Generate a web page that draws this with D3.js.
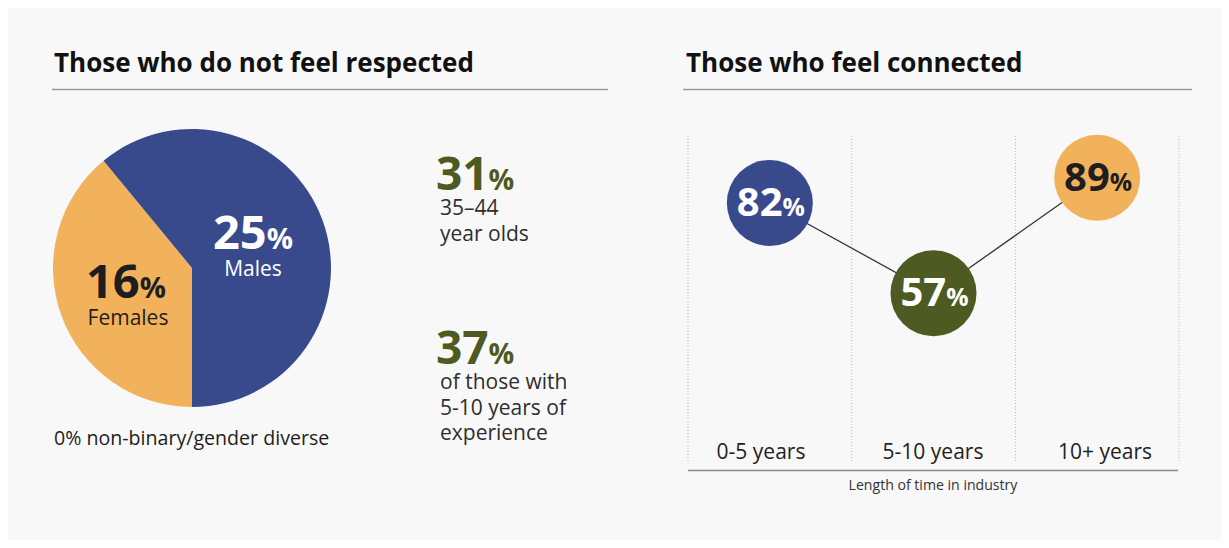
<!DOCTYPE html>
<html>
<head>
<meta charset="utf-8">
<title>Respected and connected</title>
<script src="https://cdn.jsdelivr.net/npm/d3@7"></script>
<style>
  body { margin: 0; background: #fff; font-family: "Open Sans", sans-serif; }
  svg text { font-family: "Open Sans", sans-serif; }
</style>
</head>
<body>
<svg id="chart" width="1229" height="548"></svg>
<script>
// left panel: share who do not feel respected
var genders = ["Females", "Males"];
var genderValues = [16, 25];
var genderColors = ["#f2b25c", "#394a8c"];
var genderText = ["#1e1e1e", "#ffffff"];
var otherNote = "0% non-binary/gender diverse";

var callouts = [
  { value: 31, lines: ["35\u201344", "year olds"] },
  { value: 37, lines: ["of those with", "5-10 years of", "experience"] }
];

// right panel: share who feel connected
var tenure = ["0-5 years", "5-10 years", "10+ years"];
var connected = [82, 57, 89];
var tenureColors = ["#394a8c", "#4d5a21", "#f2b25c"];
var tenureText = ["#ffffff", "#ffffff", "#1e1e1e"];

var svg = d3.select("#chart");

svg.append("rect")
  .attr("x", 8).attr("y", 8)
  .attr("width", 1213).attr("height", 532)
  .attr("fill", "#f8f8f8");

// titles
function title(x, y, x1, x2, txt) {
  svg.append("text")
    .attr("x", x).attr("y", y)
    .attr("font-size", 26).attr("font-weight", 700)
    .attr("fill", "#111")
    .text(txt);
  svg.append("line")
    .attr("x1", x1).attr("x2", x2)
    .attr("y1", 89.5).attr("y2", 89.5)
    .attr("stroke", "#9a9a9a").attr("stroke-width", 1.5);
}
title(54, 72, 52, 608, "Those who do not feel respected");
title(686, 72, 683, 1192, "Those who feel connected");

// big number with small % sign
function bigPct(g, x, y, val, size, color, anchor) {
  var t = g.append("text")
    .attr("x", x).attr("y", y)
    .attr("text-anchor", anchor || "start")
    .attr("font-weight", 700)
    .attr("fill", color);
  t.append("tspan").attr("font-size", size).text(val);
  t.append("tspan").attr("font-size", size * 0.62).text("%");
  return t;
}

// pie
var cx = 192, cy = 268, r = 139;
var pie = d3.pie().sort(null).startAngle(Math.PI).endAngle(3 * Math.PI);
var arc = d3.arc().innerRadius(0).outerRadius(r);
var arcs = pie(genderValues);

var pg = svg.append("g").attr("transform", "translate(" + cx + "," + cy + ")");
pg.selectAll("path")
  .data(arcs)
  .enter().append("path")
  .attr("d", arc)
  .attr("fill", function(d, i) { return genderColors[i]; });

var labelPos = [[-66, 30], [61, -19]];
arcs.forEach(function(d, i) {
  bigPct(pg, labelPos[i][0], labelPos[i][1], genderValues[i], 47, genderText[i], "middle");
  pg.append("text")
    .attr("x", labelPos[i][0] + (i ? 0 : 2)).attr("y", labelPos[i][1] + 27)
    .attr("text-anchor", "middle")
    .attr("font-size", 21)
    .attr("fill", genderText[i])
    .text(genders[i]);
});

svg.append("text")
  .attr("x", 54).attr("y", 445)
  .attr("font-size", 19.6).attr("fill", "#1e1e1e")
  .text(otherNote);

// callouts
var cy0 = [190, 364];
callouts.forEach(function(c, i) {
  bigPct(svg, 436, cy0[i], c.value, 46, "#4d5a21");
  c.lines.forEach(function(l, j) {
    svg.append("text")
      .attr("x", 440).attr("y", cy0[i] + 25 + j * 25.5)
      .attr("font-size", 21).attr("fill", "#2e2e2e")
      .text(l);
  });
});

// connected chart
var x = d3.scaleBand().domain(tenure).range([688, 1179]);
var xLabel = d3.scaleBand().domain(tenure).range([675, 1191]);
var y = d3.scaleLinear().domain([0, 100]).range([499, 138]);

var edges = tenure.map(function(t) { return x(t); }).concat([x.range()[1]]);
svg.selectAll("line.grid")
  .data(edges)
  .enter().append("line")
  .attr("class", "grid")
  .attr("x1", function(d) { return d; }).attr("x2", function(d) { return d; })
  .attr("y1", 136).attr("y2", 463)
  .attr("stroke", "#b5b5b5").attr("stroke-width", 1)
  .attr("stroke-dasharray", "1,2");

svg.append("line")
  .attr("x1", 688).attr("x2", 1178)
  .attr("y1", 470.5).attr("y2", 470.5)
  .attr("stroke", "#8a8a8a").attr("stroke-width", 1.5);

svg.selectAll("text.cat")
  .data(tenure)
  .enter().append("text")
  .attr("class", "cat")
  .attr("x", function(d) { return xLabel(d) + xLabel.bandwidth() / 2; })
  .attr("y", 459)
  .attr("text-anchor", "middle")
  .attr("font-size", 21).attr("fill", "#222")
  .text(function(d) { return d; });

svg.append("text")
  .attr("x", 933).attr("y", 490)
  .attr("text-anchor", "middle")
  .attr("font-size", 14.1).attr("fill", "#333")
  .text("Length of time in industry");

var line = d3.line()
  .x(function(d, i) { return x(tenure[i]) + x.bandwidth() / 2; })
  .y(function(d) { return y(d); });

svg.append("path")
  .datum(connected)
  .attr("d", line)
  .attr("fill", "none")
  .attr("stroke", "#333").attr("stroke-width", 1.3);

var node = svg.selectAll("g.node")
  .data(connected)
  .enter().append("g")
  .attr("class", "node")
  .attr("transform", function(d, i) {
    return "translate(" + (x(tenure[i]) + x.bandwidth() / 2) + "," + y(d) + ")";
  });

node.append("circle")
  .attr("r", 43)
  .attr("fill", function(d, i) { return tenureColors[i]; });

node.each(function(d, i) {
  bigPct(d3.select(this), 1, 13, d, 40, tenureText[i], "middle");
});
</script>
</body>
</html>
